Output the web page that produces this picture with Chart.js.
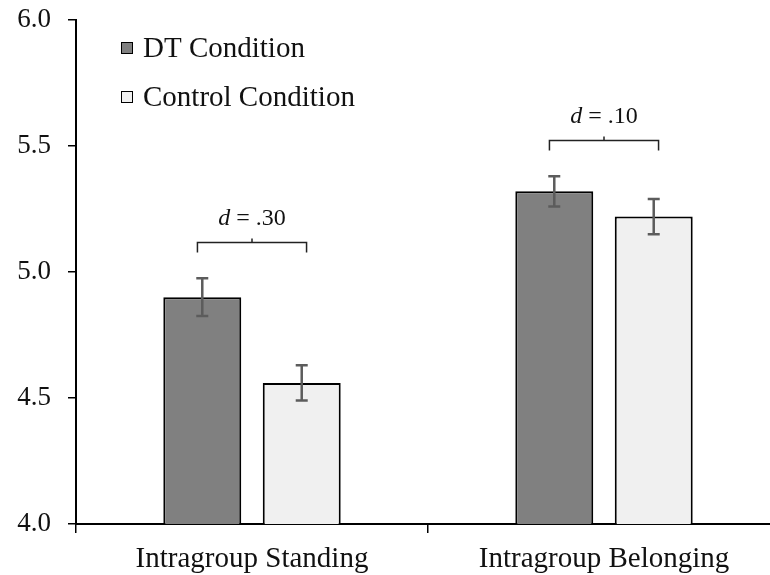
<!DOCTYPE html>
<html>
<head>
<meta charset="utf-8">
<script src="https://cdn.jsdelivr.net/npm/chart.js@4.4.1/dist/chart.umd.min.js"></script>
<style>
  html, body { margin: 0; padding: 0; background: #fff; overflow: hidden; }
  #wrap { width: 780px; height: 575px; }
</style>
</head>
<body>
<div id="wrap"><canvas id="chart"></canvas></div>
<script>
// Data
const categories = ['Intragroup Standing', 'Intragroup Belonging'];
const seriesNames = ['DT Condition', 'Control Condition'];
const dtMeans = [4.90, 5.32];
const controlMeans = [4.56, 5.22];
const dtErrors = [0.075, 0.06];
const controlErrors = [0.07, 0.07];
const effectLabels = ['.30', '.10'];
const yTicks = [4.0, 4.5, 5.0, 5.5, 6.0];

const FONT = '"Liberation Serif", "Times New Roman", serif';

// error bars drawn on top of each bar
const errorBarPlugin = {
  id: 'errorBars',
  afterDatasetsDraw(chart) {
    const ctx = chart.ctx;
    const y = chart.scales.y;
    ctx.save();
    ctx.strokeStyle = '#5c5c5c';
    ctx.lineWidth = 2.5;
    chart.data.datasets.forEach((ds, di) => {
      const meta = chart.getDatasetMeta(di);
      meta.data.forEach((bar, i) => {
        const v = ds.data[i], e = ds.errors[i];
        const top = y.getPixelForValue(v + e);
        const bot = y.getPixelForValue(v - e);
        ctx.beginPath();
        ctx.moveTo(bar.x, top); ctx.lineTo(bar.x, bot);
        ctx.moveTo(bar.x - 6, top); ctx.lineTo(bar.x + 6, top);
        ctx.moveTo(bar.x - 6, bot); ctx.lineTo(bar.x + 6, bot);
        ctx.stroke();
      });
    });
    ctx.restore();
  }
};

// effect size brackets above each pair
const bracketPlugin = {
  id: 'brackets',
  afterDatasetsDraw(chart) {
    const ctx = chart.ctx;
    const x = chart.scales.x;
    const y = chart.scales.y;
    const half = x.width / categories.length * 0.155;
    ctx.save();
    ctx.strokeStyle = '#222';
    ctx.lineWidth = 1.5;
    categories.forEach((c, i) => {
      const cx = x.getPixelForValue(i);
      const maxTop = Math.max(dtMeans[i] + dtErrors[i], controlMeans[i] + controlErrors[i]);
      const by = Math.round(y.getPixelForValue(maxTop) - 36) + 0.5;
      ctx.beginPath();
      ctx.moveTo(cx - half, by + 10); ctx.lineTo(cx - half, by);
      ctx.lineTo(cx + half, by); ctx.lineTo(cx + half, by + 10);
      ctx.moveTo(cx, by); ctx.lineTo(cx, by - 4);
      ctx.stroke();

      // "d = .30" with italic d
      ctx.fillStyle = '#111';
      ctx.textBaseline = 'alphabetic';
      const italic = 'italic 24px ' + FONT;
      const normal = '24px ' + FONT;
      ctx.font = italic;
      const wd = ctx.measureText('d').width;
      ctx.font = normal;
      const rest = ' = ' + effectLabels[i];
      const wr = ctx.measureText(rest).width;
      const sx = cx - (wd + wr) / 2;
      ctx.font = italic;
      ctx.fillText('d', sx, by - 18);
      ctx.font = normal;
      ctx.fillText(rest, sx + wd, by - 18);
    });
    ctx.restore();
  }
};

// legend inside the plot, top left
const legendPlugin = {
  id: 'insideLegend',
  afterDraw(chart) {
    const ctx = chart.ctx;
    const a = chart.chartArea;
    ctx.save();
    ctx.font = '29px ' + FONT;
    ctx.textBaseline = 'middle';
    chart.data.datasets.forEach((ds, i) => {
      const cy = a.top + 28 + i * 49;
      const sx = a.left + 45;
      ctx.fillStyle = ds.backgroundColor;
      ctx.fillRect(sx, cy - 6, 12, 12);
      ctx.strokeStyle = '#000';
      ctx.lineWidth = 1;
      ctx.strokeRect(sx + 0.5, cy - 5.5, 11, 11);
      ctx.fillStyle = '#111';
      ctx.fillText(ds.label, sx + 22, cy + 1);
    });
    ctx.restore();
  }
};

new Chart(document.getElementById('chart'), {
  type: 'bar',
  data: {
    labels: categories,
    datasets: [
      {
        label: seriesNames[0],
        data: dtMeans,
        errors: dtErrors,
        backgroundColor: '#808080',
        borderColor: '#000',
        borderWidth: 2,
        categoryPercentage: 0.565,
        barPercentage: 0.784,
      },
      {
        label: seriesNames[1],
        data: controlMeans,
        errors: controlErrors,
        backgroundColor: '#f0f0f0',
        borderColor: '#000',
        borderWidth: 2,
        categoryPercentage: 0.565,
        barPercentage: 0.784,
      },
    ],
  },
  options: {
    responsive: true,
    maintainAspectRatio: false,
    animation: false,
    layout: { padding: { top: 20, right: 0, left: 0, bottom: 0 } },
    plugins: {
      legend: { display: false },
      tooltip: { enabled: false },
    },
    scales: {
      x: {
        grid: { display: true, drawOnChartArea: false, offset: true, tickLength: 9, color: '#000', lineWidth: 1.5 },
        border: { color: '#000', width: 2 },
        ticks: { color: '#111', font: { family: FONT, size: 29 }, padding: 9 },
        afterFit(s) { s.height = 51; s.paddingLeft = 0; s.paddingRight = 0; },
      },
      y: {
        min: 4,
        max: 6,
        afterBuildTicks(s) { s.ticks = yTicks.map(v => ({ value: v })); },
        grid: { display: true, drawOnChartArea: false, tickLength: 8, color: '#000', lineWidth: 1.5 },
        border: { color: '#000', width: 2 },
        ticks: {
          color: '#111',
          font: { family: FONT, size: 27 },
          padding: 17,
          callback: v => Number(v).toFixed(1),
        },
        afterFit(s) { s.width = 76; s.paddingTop = 0; s.paddingBottom = 0; },
      },
    },
  },
  plugins: [errorBarPlugin, bracketPlugin, legendPlugin],
});
</script>
</body>
</html>
